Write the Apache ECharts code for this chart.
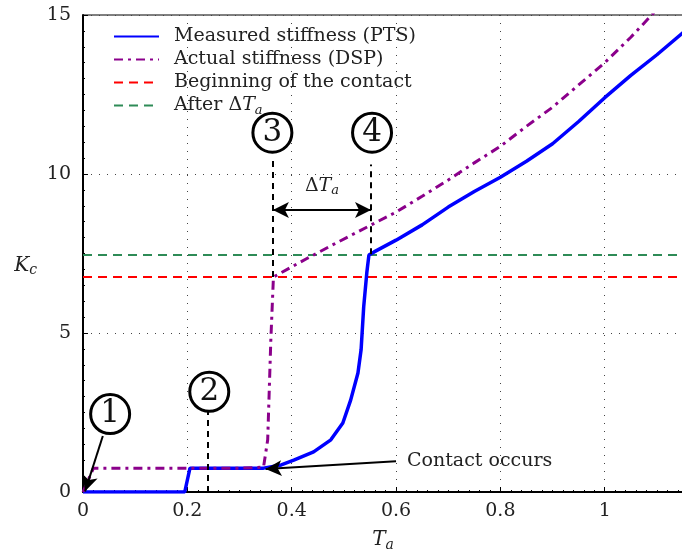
<!DOCTYPE html>
<html>
<head>
<meta charset="utf-8">
<script src="https://cdn.jsdelivr.net/npm/echarts@6/dist/echarts.min.js"></script>
<style>
	html, body { margin: 0; padding: 0; background: #fff; }
	#chart { width: 682px; height: 552px; }
</style>
</head>
<body>
<div id="chart"></div>
<script>
// measured stiffness (PTS)
const measuredT = [0, 0.195, 0.205, 0.25, 0.3, 0.346, 0.38, 0.404, 0.442, 0.475, 0.498, 0.513, 0.527, 0.533, 0.538, 0.544, 0.548, 0.558, 0.6, 0.65, 0.7, 0.75, 0.8, 0.85, 0.9, 0.95, 1.0, 1.05, 1.1, 1.152];
const measuredK = [0, 0, 0.75, 0.75, 0.75, 0.75, 0.85, 1.0, 1.26, 1.64, 2.17, 2.89, 3.74, 4.47, 5.82, 6.9, 7.45, 7.55, 7.92, 8.4, 8.96, 9.45, 9.9, 10.4, 10.95, 11.65, 12.4, 13.1, 13.75, 14.47];
// actual stiffness (DSP)
const actualT = [0, 0.02, 0.1, 0.2, 0.3, 0.346, 0.354, 0.36, 0.365, 0.43, 0.49, 0.55, 0.6, 0.65, 0.7, 0.75, 0.8, 0.85, 0.9, 0.95, 1.0, 1.05, 1.09, 1.15];
const actualK = [0, 0.75, 0.75, 0.75, 0.75, 0.78, 1.64, 4.78, 6.76, 7.35, 7.87, 8.38, 8.8, 9.3, 9.81, 10.35, 10.87, 11.5, 12.1, 12.8, 13.5, 14.3, 15.0, 16.0];
const contactK = 6.76;
const afterK = 7.45;
const xRange = [0, 1.15];
const yTicks = [0, 5, 10, 15];
// annotation points (T, K)
const circleLabels = ['1', '2', '3', '4'];
const circleT = [0.052, 0.242, 0.363, 0.554];
const circleK = [2.45, 3.15, 11.3, 11.3];

const font = 'DejaVu Serif';
const zip = (a, b) => a.map((v, i) => [v, b[i]]);

const chart = echarts.init(document.getElementById('chart'));
const dashBlack = { color: '#000', width: 2, type: [6, 5] };
const arrowBlack = { color: '#000', width: 2, type: 'solid' };
const mathRich = (size) => ({
	n: { fontFamily: font, fontSize: size, color: '#222' },
	i: { fontFamily: font, fontSize: size, fontStyle: 'italic', color: '#222' },
	s: { fontFamily: font, fontSize: Math.round(size * 0.68), fontStyle: 'italic', color: '#222', padding: [Math.round(size * 0.5), 0, 0, 0] },
});

chart.setOption({
	animation: false,
	grid: { left: 83, top: 15, right: -1, bottom: 60, show: true, borderColor: '#000', borderWidth: 1, outerBoundsMode: 'none', containLabel: false },
	legend: {
		left: 108,
		top: 22,
		orient: 'vertical',
		itemWidth: 45,
		itemHeight: 14,
		itemGap: 4,
		itemStyle: { opacity: 0 },
		textStyle: {
			fontFamily: font, fontSize: 19, color: '#222', padding: [0, 0, 0, 10],
			rich: mathRich(19),
		},
		formatter: function (name) {
			if (name === 'After ΔTa') return '{n|After Δ}{i|T}{s|a}';
			return '{n|' + name + '}';
		},
		data: ['Measured stiffness (PTS)', 'Actual stiffness (DSP)', 'Beginning of the contact', 'After ΔTa'],
	},
	xAxis: {
		type: 'value',
		min: xRange[0],
		max: xRange[1],
		interval: 0.2,
		name: '{i|T}{s|a}',
		nameLocation: 'middle',
		nameGap: 36,
		nameTextStyle: { rich: mathRich(20) },
		axisLine: { lineStyle: { color: '#000', width: 2 } },
		axisTick: { inside: true, length: 5, lineStyle: { color: '#000' } },
		minorTick: { show: true, splitNumber: 10, length: 2, lineStyle: { color: '#000' } },
		axisLabel: {
			fontFamily: font, fontSize: 19, color: '#222', margin: 10, showMaxLabel: false,
			formatter: function (v) { return v > 1.1 ? '' : String(+v.toFixed(1)); },
		},
		splitLine: { show: true, lineStyle: { color: '#444', width: 1, type: [1, 7] } },
	},
	yAxis: {
		type: 'value',
		min: yTicks[0],
		max: yTicks[yTicks.length - 1],
		interval: 5,
		name: '{i|K}{s|c}',
		nameLocation: 'middle',
		nameRotate: 0,
		nameGap: 46,
		nameTextStyle: { rich: mathRich(20), padding: [24, 0, 0, 0] },
		axisLine: { show: true, lineStyle: { color: '#000', width: 2 } },
		axisTick: { show: true, inside: true, length: 5, lineStyle: { color: '#000' } },
		minorTick: { show: true, splitNumber: 10, length: 2, lineStyle: { color: '#000' } },
		axisLabel: { fontFamily: font, fontSize: 19, color: '#222', margin: 12 },
		splitLine: { show: true, lineStyle: { color: '#444', width: 1, type: [1, 7] } },
	},
	series: [
		{
			name: 'Beginning of the contact',
			type: 'line',
			symbol: 'none',
			z: 2,
			lineStyle: { color: '#ff0000', width: 2, type: [9, 6] },
			itemStyle: { color: '#ff0000' },
			data: xRange.map(x => [x, contactK]),
		},
		{
			name: 'After ΔTa',
			type: 'line',
			symbol: 'none',
			z: 2,
			lineStyle: { color: '#2e8b57', width: 2, type: [9, 6] },
			itemStyle: { color: '#2e8b57' },
			data: xRange.map(x => [x, afterK]),
		},
		{
			name: 'Actual stiffness (DSP)',
			type: 'line',
			symbol: 'none',
			z: 4,
			lineStyle: { color: '#8b008b', width: 3, type: [9, 5, 3, 5] },
			itemStyle: { color: '#8b008b' },
			data: zip(actualT, actualK),
		},
		{
			name: 'Measured stiffness (PTS)',
			type: 'line',
			symbol: 'none',
			z: 3,
			lineStyle: { color: '#0000ff', width: 3.5 },
			itemStyle: { color: '#0000ff' },
			data: zip(measuredT, measuredK),
		},
		{
			// dashed markers, arrows and text notes
			name: 'notes',
			type: 'line',
			data: [],
			z: 5,
			markLine: {
				silent: true,
				animation: false,
				symbol: 'none',
				label: { show: false },
				data: [
					[{ coord: [0.24, 0], lineStyle: dashBlack }, { coord: [0.24, 2.58] }],
					[{ coord: [0.364, 6.76], lineStyle: dashBlack }, { coord: [0.364, 10.5] }],
					[{ coord: [0.552, 7.48], lineStyle: dashBlack }, { coord: [0.552, 10.3] }],
					[{ coord: [0.364, 8.87], lineStyle: arrowBlack, symbol: 'arrow', symbolSize: [12, 16] }, { coord: [0.552, 8.87], symbol: 'arrow', symbolSize: [12, 16] }],
					[{ coord: [0.038, 1.76], lineStyle: arrowBlack }, { coord: [0.004, 0.02], symbol: 'arrow', symbolSize: [12, 16] }],
					[{ coord: [0.6, 0.97], lineStyle: arrowBlack }, { coord: [0.35, 0.72], symbol: 'arrow', symbolSize: [12, 16] }],
				],
			},
			markPoint: {
				silent: true,
				animation: false,
				symbol: 'rect',
				symbolSize: 1,
				itemStyle: { color: 'transparent' },
				data: [
					{
						coord: [0.62, 0.97],
						label: { show: true, position: 'right', distance: 0, formatter: 'Contact occurs', fontFamily: font, fontSize: 19, color: '#222' },
					},
					{
						coord: [0.458, 9.62],
						label: { show: true, position: 'inside', formatter: '{n|Δ}{i|T}{s|a}', rich: mathRich(19) },
					},
				],
			},
		},
		{
			name: 'circles',
			type: 'scatter',
			z: 6,
			symbol: 'circle',
			symbolSize: 39,
			itemStyle: { color: '#fff', borderColor: '#000', borderWidth: 3, opacity: 1 },
			label: {
				show: true, position: 'inside', fontFamily: font, fontSize: 31, color: '#111',
				formatter: p => circleLabels[p.dataIndex],
			},
			data: zip(circleT, circleK),
		},
	],
});
</script>
</body>
</html>
